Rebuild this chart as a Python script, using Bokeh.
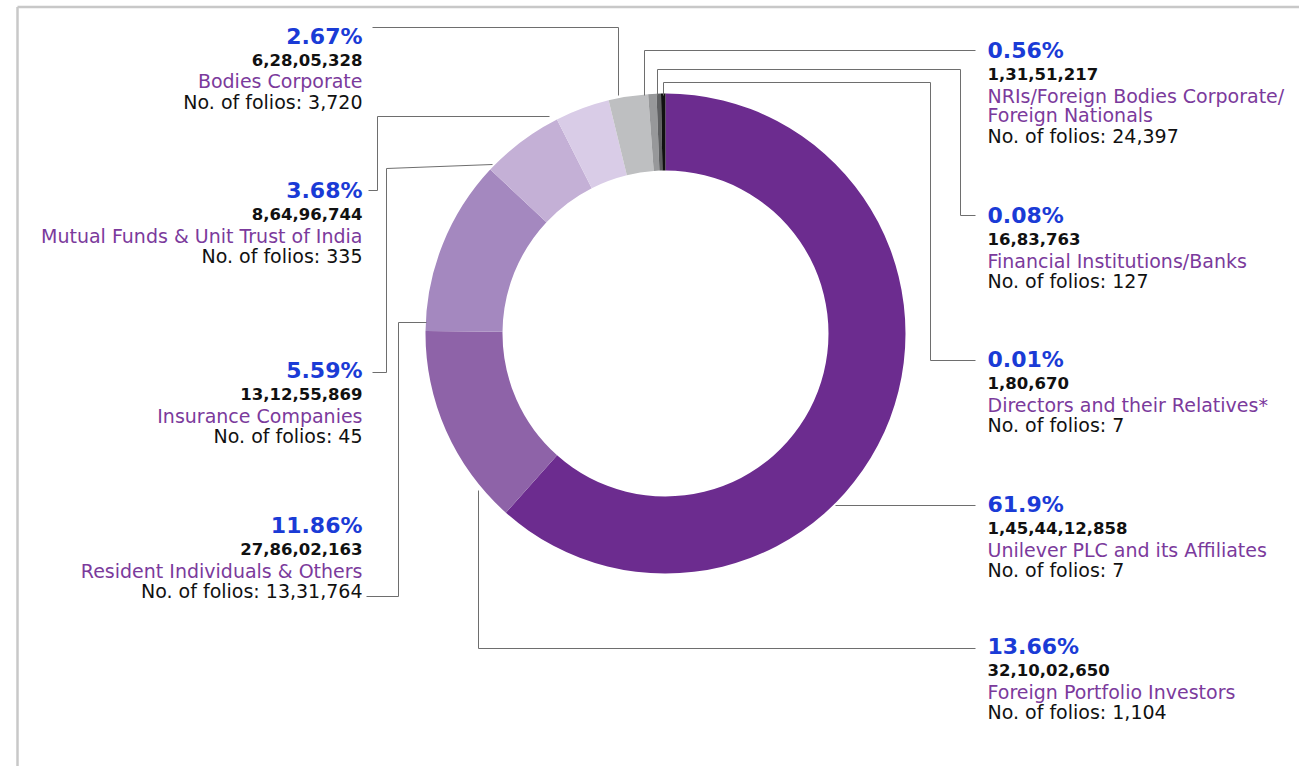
from bokeh.plotting import figure
from bokeh.models import ColumnDataSource, Range1d
from bokeh.embed import file_html
from bokeh.resources import INLINE
from bokeh.core.properties import value
import math

# ---------------- data ----------------
categories = [
    "Unilever PLC and its Affiliates",
    "Foreign Portfolio Investors",
    "Resident Individuals & Others",
    "Insurance Companies",
    "Mutual Funds & Unit Trust of India",
    "Bodies Corporate",
    "NRIs/Foreign Bodies Corporate/\nForeign Nationals",
    "Financial Institutions/Banks",
    "Directors and their Relatives*",
]
percent = [61.9, 13.66, 11.86, 5.59, 3.68, 2.67, 0.56, 0.08, 0.01]
percent_labels = ["61.9%", "13.66%", "11.86%", "5.59%", "3.68%", "2.67%", "0.56%", "0.08%", "0.01%"]
shares = ["1,45,44,12,858", "32,10,02,650", "27,86,02,163", "13,12,55,869",
          "8,64,96,744", "6,28,05,328", "1,31,51,217", "16,83,763", "1,80,670"]
folios = ["7", "1,104", "13,31,764", "45", "335", "3,720", "24,397", "127", "7"]

# ---------------- style / layout ----------------
W, H = 1299, 766
colors = ["#6C2C8F", "#8E63A8", "#A488BF", "#C4B0D6", "#D9CCE7",
          "#BEBFC1", "#97989A", "#5F6062", "#111111"]
CX, CY = 665, 333          # donut centre (page px)
R_OUT, R_IN = 240, 163
MIN_SHARE = 0.3            # smallest visible slice (percent)
PCT_COLOR = "#1A3BD6"
NAME_COLOR = "#7B3A9C"
LINE_COLOR = "#6E6E6E"

def Y(py):
    return H - py

# label anchors: (x, y of percentage line, align)
anchors = [
    (987, 504, "left"),
    (987, 646, "left"),
    (362, 525, "right"),
    (362, 370, "right"),
    (362, 190, "right"),
    (362, 35.5, "right"),
    (987, 50, "left"),
    (987, 215, "left"),
    (987, 359, "left"),
]

# leader lines (page px)
leaders = [
    [(975, 505), (835, 505)],
    [(975, 648), (478, 648), (478, 490)],
    [(366, 596), (398, 596), (398, 322), (426, 322)],
    [(372, 372), (386, 372), (386, 168), (492, 164)],
    [(368, 190), (377, 190), (377, 116), (549, 116)],
    [(372, 27), (618, 27), (618, 95)],
    [(975, 50), (644, 50), (644, 95)],
    [(975, 215), (960, 215), (960, 69), (657, 69), (657, 95)],
    [(975, 360), (930, 360), (930, 82), (663, 82), (663, 95)],
]

p = figure(width=W, height=H, output_backend="svg", toolbar_location=None,
           x_range=Range1d(0, W), y_range=Range1d(0, H),
           x_axis_type=None, y_axis_type=None, min_border=0,
           background_fill_color="white", border_fill_color="white")
p.outline_line_color = None
p.grid.visible = False

# frame lines
p.segment(x0=[17, 17], y0=[Y(6.5), Y(6.5)], x1=[W, 17], y1=[Y(6.5), 0],
          line_color="#C8C8C8", line_width=2.5)

# donut
disp = [max(v, MIN_SHARE) for v in percent]
tot = sum(disp)
starts, ends = [], []
cum = 0.0
for v in disp:
    a0 = math.pi / 2 - 2 * math.pi * cum / tot
    cum += v
    a1 = math.pi / 2 - 2 * math.pi * cum / tot
    starts.append(a0)
    ends.append(a1)
src = ColumnDataSource(dict(x=[CX] * len(percent), y=[Y(CY)] * len(percent),
                            start=starts, end=ends, color=colors))
p.annular_wedge(x="x", y="y", inner_radius=R_IN, outer_radius=R_OUT,
                start_angle="start", end_angle="end", direction="clock",
                fill_color="color", line_color=None, source=src)

# leader lines
p.multi_line(xs=[[pt[0] for pt in l] for l in leaders],
             ys=[[Y(pt[1]) for pt in l] for l in leaders],
             line_color=LINE_COLOR, line_width=1)

# labels
groups = {"pct": [], "num": [], "name": [], "fol": []}
for i, (ax, ay, al) in enumerate(anchors):
    groups["pct"].append((ax, Y(ay), percent_labels[i], al))
    groups["num"].append((ax, Y(ay + 23.5), shares[i], al))
    lines = categories[i].split("\n")
    yy = ay + 45
    for j, ln in enumerate(lines):
        groups["name"].append((ax, Y(yy), ln, al))
        if j < len(lines) - 1:
            yy += 19.5
    groups["fol"].append((ax, Y(yy + 20.5), "No. of folios: " + folios[i], al))

styles = {
    "pct": dict(font="DejaVu Sans", size="22px", style="bold", color=PCT_COLOR),
    "num": dict(font="DejaVu Sans", size="16.5px", style="bold", color="#111111"),
    "name": dict(font="DejaVu Sans", size="19px", style="normal", color=NAME_COLOR),
    "fol": dict(font="DejaVu Sans", size="19px", style="normal", color="#111111"),
}
for key, items in groups.items():
    st = styles[key]
    for align in ("left", "right"):
        sel = [it for it in items if it[3] == align]
        if not sel:
            continue
        s = ColumnDataSource(dict(x=[it[0] for it in sel], y=[it[1] for it in sel],
                                  t=[it[2] for it in sel]))
        p.text(x="x", y="y", text="t", source=s, text_align=align,
               text_baseline="middle", text_font=value(st["font"]),
               text_font_size=st["size"], text_font_style=st["style"],
               text_color=st["color"])

open("out.html", "w").write(file_html(p, INLINE))
